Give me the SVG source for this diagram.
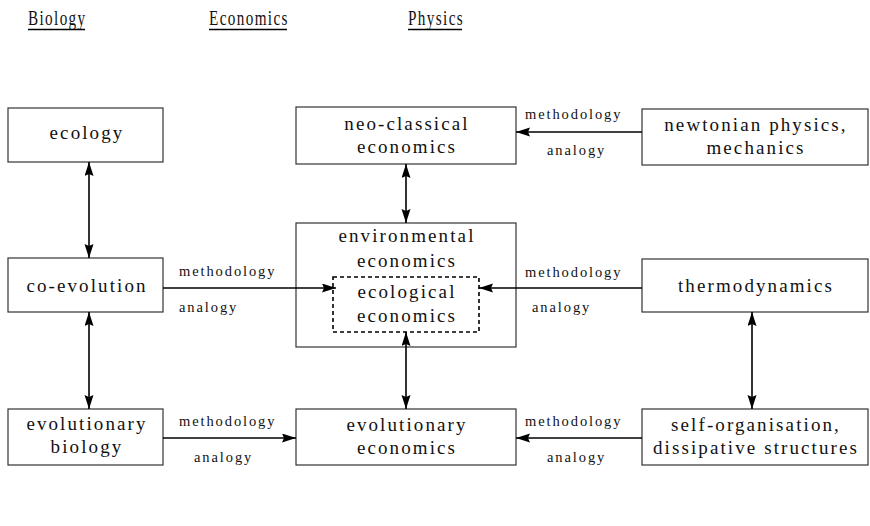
<svg xmlns="http://www.w3.org/2000/svg" width="870" height="526" viewBox="0 0 870 526">
<style>
.box{fill:#fff;stroke:#333;stroke-width:1.2}
.dash{fill:none;stroke:#000;stroke-width:1.6;stroke-dasharray:4,3}
text{font-family:'Liberation Serif','Tinos','Times New Roman','DejaVu Serif',serif;fill:#111}
.t{font-size:19px;letter-spacing:2.1px;text-anchor:middle}
.l{font-size:14.5px;letter-spacing:1.9px}
.h{font-size:22px;letter-spacing:2px}
.c{stroke:#000;stroke-width:1.3;fill:none}
.v{stroke:#000;stroke-width:1.6;fill:none;marker-start:url(#ah);marker-end:url(#ah)}
.a{marker-end:url(#ah)}
</style>
<defs>
<marker id="ah" markerUnits="userSpaceOnUse" markerWidth="15" markerHeight="10" refX="14" refY="4.5" orient="auto-start-reverse">
<path d="M0,0 L14,4.5 L0,9 L2,4.5 z" fill="#000"/>
</marker>
</defs>
<g id="headers">
<text class="h" transform="translate(28,25) scale(0.69,1)">Biology</text>
<line x1="28" y1="29.5" x2="85" y2="29.5" stroke="#000" stroke-width="1.6"/>
<text class="h" transform="translate(209,25) scale(0.69,1)">Economics</text>
<line x1="209" y1="29.5" x2="287" y2="29.5" stroke="#000" stroke-width="1.6"/>
<text class="h" transform="translate(408,25) scale(0.69,1)">Physics</text>
<line x1="408" y1="29.5" x2="462" y2="29.5" stroke="#000" stroke-width="1.6"/>
</g>
<g id="ecology"><rect class="box" x="8" y="108" width="155" height="54"/><text class="t" x="87" y="139">ecology</text></g>
<g id="neo-classical"><rect class="box" x="296" y="107" width="220" height="57"/><text class="t" x="407" y="130">neo-classical</text><text class="t" x="407" y="153">economics</text></g>
<g id="newtonian"><rect class="box" x="642" y="109" width="226" height="56"/><text class="t" x="756" y="131">newtonian physics,</text><text class="t" x="756" y="154">mechanics</text></g>
<g id="co-evolution"><rect class="box" x="8" y="258" width="155" height="54"/><text class="t" x="87" y="292">co-evolution</text></g>
<g id="environmental"><rect class="box" x="296" y="223" width="220" height="124"/><text class="t" x="407" y="242">environmental</text><text class="t" x="407" y="267">economics</text></g>
<g id="ecological"><rect class="dash" x="333" y="277" width="146" height="55"/><text class="t" x="407" y="298">ecological</text><text class="t" x="407" y="322">economics</text></g>
<g id="thermodynamics"><rect class="box" x="642" y="259" width="226" height="53"/><text class="t" x="756" y="292">thermodynamics</text></g>
<g id="evolutionary-biology"><rect class="box" x="8" y="409" width="155" height="56"/><text class="t" x="87" y="430">evolutionary</text><text class="t" x="87" y="453">biology</text></g>
<g id="evolutionary-economics"><rect class="box" x="296" y="409" width="220" height="56"/><text class="t" x="407" y="431">evolutionary</text><text class="t" x="407" y="454">economics</text></g>
<g id="self-organisation"><rect class="box" x="642" y="409" width="226" height="56"/><text class="t" x="756" y="431">self-organisation,</text><text class="t" x="756" y="454">dissipative structures</text></g>
<g id="connectors">
<line class="v" x1="89" y1="162" x2="89" y2="258"/>
<line class="v" x1="89" y1="312" x2="89" y2="409"/>
<line class="v" x1="406" y1="164" x2="406" y2="223"/>
<line class="v" x1="406" y1="332" x2="406" y2="409"/>
<line class="v" x1="752" y1="312" x2="752" y2="409"/>
<line class="c a" x1="642" y1="132" x2="516" y2="132"/>
<line class="c a" x1="163" y1="288" x2="336" y2="288"/>
<line class="c a" x1="642" y1="288" x2="479" y2="288"/>
<line class="c a" x1="163" y1="438" x2="296" y2="438"/>
<line class="c a" x1="642" y1="438" x2="516" y2="438"/>
<text class="l" x="525" y="119">methodology</text>
<text class="l" x="547" y="155">analogy</text>
<text class="l" x="179" y="276">methodology</text>
<text class="l" x="179" y="312">analogy</text>
<text class="l" x="525" y="277">methodology</text>
<text class="l" x="532" y="312">analogy</text>
<text class="l" x="179" y="426">methodology</text>
<text class="l" x="194" y="462">analogy</text>
<text class="l" x="525" y="426">methodology</text>
<text class="l" x="547" y="462">analogy</text>
</g>
</svg>
